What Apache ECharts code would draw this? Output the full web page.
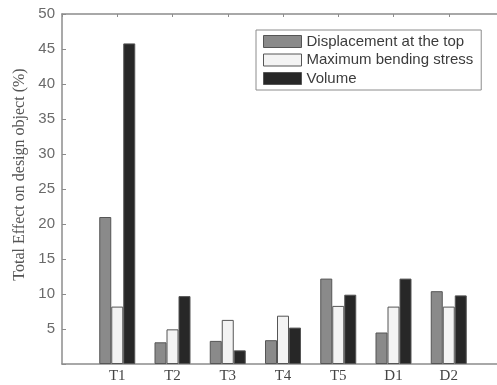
<!DOCTYPE html>
<html>
<head>
<meta charset="utf-8">
<script src="https://cdn.jsdelivr.net/npm/echarts@6/dist/echarts.min.js"></script>
<style>
  html, body { margin: 0; padding: 0; background: #fff; }
  #chart { width: 497px; height: 385px; }
</style>
</head>
<body>
<div id="chart"></div>
<script>
// Design objects on the horizontal axis
var categories = ['T1', 'T2', 'T3', 'T4', 'T5', 'D1', 'D2'];

// Total effect (%) per response
var displacementTop = [21.0, 3.1, 3.3, 3.4, 12.2, 4.5, 10.4];
var maxBendingStress = [8.2, 4.95, 6.3, 6.9, 8.3, 8.2, 8.2];
var volume = [45.8, 9.7, 1.95, 5.2, 9.9, 12.2, 9.8];

var yTicks = [5, 10, 15, 20, 25, 30, 35, 40, 45, 50];

// Empty slots on both ends leave a gap between the axes and the outer groups
var axisCats = [''].concat(categories, ['']);
function pad(arr) { return [null].concat(arr, [null]); }

var axisGrey = '#8c8c8c';

function barSeries(name, values, color) {
  return {
    name: name,
    type: 'bar',
    data: pad(values),
    barWidth: 12,
    barGap: '0%',
    itemStyle: { color: color, borderColor: '#555', borderWidth: 1 }
  };
}

var chart = echarts.init(document.getElementById('chart'));
chart.setOption({
  animation: false,
  backgroundColor: '#fff',
  grid: { left: 62, top: 14, width: 442, height: 350, containLabel: false, outerBoundsMode: 'none' },
  legend: {
    orient: 'vertical',
    left: 256,
    top: 30,
    width: 221,
    padding: [4, 8, 4, 7],
    icon: 'rect',
    itemWidth: 38,
    itemHeight: 12,
    itemGap: 3.5,
    borderColor: '#8c8c8c',
    borderWidth: 1,
    backgroundColor: '#fff',
    textStyle: { fontFamily: 'Liberation Sans, Arial, sans-serif', fontSize: 15, color: '#3c3c3c', lineHeight: 15 },
    itemStyle: { borderColor: '#555', borderWidth: 1 },
    data: ['Displacement at the top', 'Maximum bending stress', 'Volume']
  },
  graphic: [{
    type: 'text',
    rotation: Math.PI / 2,
    style: {
      text: 'Total Effect on design object (%)',
      font: '16px "Liberation Serif", "Times New Roman", serif',
      fill: '#555',
      align: 'center',
      verticalAlign: 'middle'
    },
    x: 20,
    y: 174.5
  }],
  xAxis: [{
    type: 'category',
    data: axisCats,
    boundaryGap: false,
    position: 'bottom',
    axisLine: { lineStyle: { color: axisGrey, width: 1.5 } },
    axisTick: { show: false },
    axisLabel: {
      fontFamily: 'Liberation Serif, Times New Roman, serif',
      fontSize: 15,
      color: '#444',
      margin: 5,
      interval: 0
    }
  }, {
    type: 'category',
    data: axisCats,
    boundaryGap: false,
    position: 'top',
    axisLine: { lineStyle: { color: axisGrey, width: 1.5 } },
    axisTick: { show: true, inside: true, length: 3, interval: 0, lineStyle: { color: axisGrey } },
    axisLabel: { show: false }
  }],
  yAxis: {
    type: 'value',
    min: 0,
    max: 50,
    interval: 5,
    axisLine: { show: true, lineStyle: { color: axisGrey, width: 1.5 } },
    axisTick: { show: true, inside: true, length: 4, lineStyle: { color: axisGrey } },
    splitLine: { show: false },
    axisLabel: {
      fontFamily: 'Liberation Sans, Arial, sans-serif',
      fontSize: 15,
      color: '#6a6a6a',
      margin: 7,
      formatter: function (v) { return yTicks.indexOf(v) >= 0 ? String(v) : ''; }
    }
  },
  series: [
    barSeries('Displacement at the top', displacementTop, '#8a8a8a'),
    barSeries('Maximum bending stress', maxBendingStress, '#f3f3f3'),
    barSeries('Volume', volume, '#272727')
  ]
});
</script>
</body>
</html>
